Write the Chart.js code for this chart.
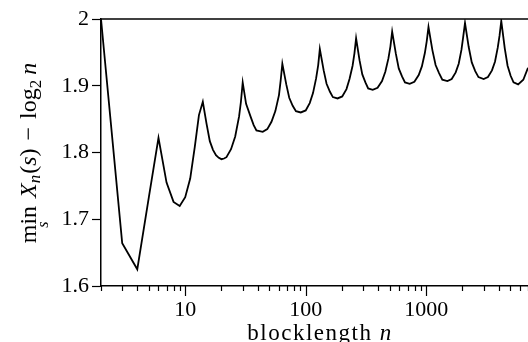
<!DOCTYPE html>
<html>
<head>
<meta charset="utf-8">
<script src="https://cdn.jsdelivr.net/npm/chart.js@4/dist/chart.umd.min.js"></script>
<style>
  html, body { margin: 0; padding: 0; background: #fff; }
  #wrap { width: 528px; height: 342px; }
</style>
</head>
<body>
<div id="wrap"><canvas id="gap"></canvas></div>
<script>
// blocklength n and min_s X_n(s) - log2 n
var blockLengths = [
  2, 3, 4, 5, 6, 7, 8, 9, 10, 11, 12, 13, 14, 15, 16, 17, 18, 19, 20, 21, 22, 24, 26, 28, 29, 30,
  32, 35, 37, 39, 44, 48, 52, 56, 60, 62, 64,
  69, 73, 78, 83, 91, 100, 108, 115, 122, 127, 131,
  141, 149, 159, 168, 184, 201, 218, 231, 245, 254, 262,
  280, 295, 313, 330, 360, 395, 430, 458, 486, 505, 522,
  560, 592, 630, 667, 730, 798, 867, 921, 975, 1011, 1045,
  1127, 1197, 1279, 1361, 1500, 1629, 1758, 1862, 1963, 2028, 2100,
  2254, 2390, 2553, 2716, 3000, 3255, 3516, 3724, 3926, 4064, 4200,
  4490, 4738, 5023, 5309, 5800, 6400, 7000
];
var gapValues = [
  2.000, 1.664, 1.625, 1.734, 1.822, 1.755, 1.726, 1.720, 1.733, 1.761, 1.808, 1.856, 1.876, 1.844, 1.817, 1.804, 1.796, 1.792, 1.790, 1.791, 1.793, 1.805, 1.824, 1.854, 1.876, 1.905,
  1.873, 1.853, 1.841, 1.833, 1.831, 1.835, 1.846, 1.862, 1.886, 1.908, 1.933,
  1.902, 1.882, 1.870, 1.862, 1.860, 1.863, 1.874, 1.889, 1.911, 1.931, 1.955,
  1.923, 1.903, 1.891, 1.883, 1.881, 1.884, 1.895, 1.910, 1.930, 1.949, 1.971,
  1.938, 1.917, 1.905, 1.896, 1.894, 1.897, 1.907, 1.921, 1.941, 1.959, 1.981,
  1.948, 1.926, 1.914, 1.905, 1.903, 1.906, 1.916, 1.929, 1.949, 1.967, 1.988,
  1.953, 1.931, 1.919, 1.909, 1.907, 1.910, 1.920, 1.933, 1.954, 1.973, 1.994,
  1.958, 1.935, 1.922, 1.913, 1.910, 1.913, 1.923, 1.936, 1.957, 1.975, 1.997,
  1.956, 1.930, 1.915, 1.905, 1.902, 1.909, 1.927
];
var xTicks = [2, 3, 4, 5, 6, 7, 8, 9, 10, 20, 30, 40, 50, 60, 70, 80, 90, 100,
  200, 300, 400, 500, 600, 700, 800, 900, 1000, 2000, 3000, 4000, 5000, 6000, 7000];
var xLabels = [10, 100, 1000];

var serif = '"Liberation Serif", "DejaVu Serif", serif';

var points = blockLengths.map(function (n, i) { return { x: n, y: gapValues[i] }; });

// frame bits and math-style axis titles
var decor = {
  id: 'decor',
  afterDraw: function (chart) {
    var c = chart.ctx, a = chart.chartArea, xs = chart.scales.x;
    c.save();
    c.strokeStyle = '#000';
    c.lineWidth = 1.5;
    c.beginPath();
    c.moveTo(a.left, a.top);
    c.lineTo(a.right, a.top);
    c.stroke();

    c.lineWidth = 1.2;
    xs.ticks.forEach(function (t) {
      var px = Math.round(xs.getPixelForValue(t.value)) + 0.5;
      var len = xLabels.indexOf(t.value) >= 0 ? 10 : 5;
      c.beginPath();
      c.moveTo(px, a.bottom);
      c.lineTo(px, a.bottom + len);
      c.stroke();
    });

    c.fillStyle = '#000';
    c.textBaseline = 'alphabetic';
    c.textAlign = 'left';

    // x title
    var f1 = '23px ' + serif, f1i = 'italic 23px ' + serif;
    c.save();
    c.letterSpacing = '1.5px';
    c.font = f1; var w1 = c.measureText('blocklength ').width;
    c.font = f1i; var w2 = c.measureText('n').width;
    var sx = 320 - (w1 + w2) / 2;
    c.font = f1; c.fillText('blocklength ', sx, 340);
    c.font = f1i; c.fillText('n', sx + w1, 340);
    c.restore();

    // y title
    var f2 = '24px ' + serif, f2i = 'italic 24px ' + serif;
    var parts = [
      { t: 'min', f: f2, v: 0, g: 8 },
      { t: 'X', f: f2i, v: 0, g: 0 },
      { t: 'n', f: 'italic 17px ' + serif, v: 4, g: 1 },
      { t: '(', f: f2, v: 0, g: 0 },
      { t: 's', f: f2i, v: 0, g: 0 },
      { t: ')', f: f2, v: 0, g: 8 },
      { t: '\u2212', f: f2, v: 0, g: 8 },
      { t: 'log', f: f2, v: 0, g: 0 },
      { t: '2', f: '17px ' + serif, v: 5, g: 5 },
      { t: 'n', f: f2i, v: 0, g: 0 }
    ];
    var total = 0;
    parts.forEach(function (p) { c.font = p.f; p.w = c.measureText(p.t).width; total += p.w + p.g; });
    c.translate(36, 153);
    c.rotate(-Math.PI / 2);
    var u = -total / 2, minStart = u, minW = parts[0].w;
    parts.forEach(function (p) {
      c.font = p.f;
      c.fillText(p.t, u, p.v);
      u += p.w + p.g;
    });
    c.font = 'italic 16px ' + serif;
    c.textAlign = 'center';
    c.fillText('s', minStart + minW / 2, 12);
    c.restore();
  }
};

new Chart(document.getElementById('gap'), {
  type: 'line',
  data: {
    datasets: [{
      data: points,
      borderColor: '#000',
      borderWidth: 1.8,
      pointRadius: 0,
      tension: 0,
      fill: false
    }]
  },
  options: {
    responsive: true,
    maintainAspectRatio: false,
    animation: false,
    layout: { padding: { top: 19, right: 0, left: 0, bottom: 0 } },
    plugins: { legend: { display: false }, tooltip: { enabled: false } },
    scales: {
      x: {
        type: 'logarithmic',
        min: 2,
        max: 7000,
        afterBuildTicks: function (scale) {
          scale.ticks = xTicks.map(function (v) { return { value: v }; });
        },
        afterFit: function (scale) {
          scale.height = 56;
          scale.paddingRight = 0;
        },
        ticks: {
          autoSkip: false,
          maxRotation: 0,
          padding: 11,
          color: '#000',
          font: { family: serif, size: 22 },
          callback: function (v) { return xLabels.indexOf(v) >= 0 ? String(v) : ''; }
        },
        grid: { drawOnChartArea: false, drawTicks: false },
        border: { color: '#000', width: 1.5 }
      },
      y: {
        min: 1.6,
        max: 2,
        afterFit: function (scale) { scale.width = 101; },
        ticks: {
          stepSize: 0.1,
          padding: 3,
          color: '#000',
          font: { family: serif, size: 22 },
          callback: function (v) { return Math.abs(v - 2) < 1e-9 ? '2' : v.toFixed(1); }
        },
        grid: { drawOnChartArea: false, tickLength: 9, tickColor: '#000', tickWidth: 1.2 },
        border: { color: '#000', width: 1.5 }
      }
    }
  },
  plugins: [decor]
});
</script>
</body>
</html>
